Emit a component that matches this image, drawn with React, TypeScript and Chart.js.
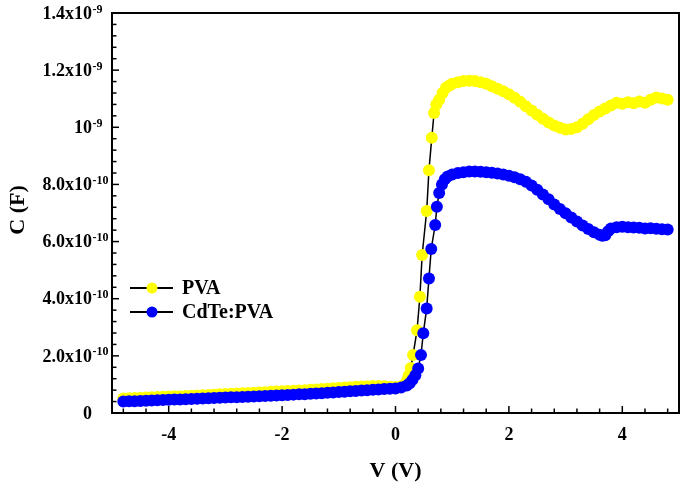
import { useEffect, useRef } from "react";
import { Chart, registerables } from "chart.js";

Chart.register(...registerables);

// Capacitance values are in units of 1e-11 F
const pvaV = [
  -4.8, -4.7, -4.6, -4.5, -4.4, -4.3, -4.2, -4.1, -4.0, -3.9, -3.8, -3.7, -3.6, -3.5, -3.4, -3.3,
  -3.2, -3.1, -3.0, -2.9, -2.8, -2.7, -2.6, -2.5, -2.4, -2.3, -2.2, -2.1, -2.0, -1.9, -1.8, -1.7,
  -1.6, -1.5, -1.4, -1.3, -1.2, -1.1, -1.0, -0.9, -0.8, -0.7, -0.6, -0.5, -0.4, -0.3, -0.2, -0.1,
  0.0, 0.1, 0.15, 0.2, 0.23, 0.27, 0.31, 0.38, 0.43, 0.47, 0.55, 0.59, 0.64, 0.68, 0.72, 0.77,
  0.83, 0.89, 0.95, 1.0, 1.1, 1.2, 1.3, 1.4, 1.5, 1.6, 1.7, 1.8, 1.9, 2.0, 2.1, 2.2, 2.3, 2.4,
  2.5, 2.6, 2.7, 2.8, 2.9, 3.0, 3.1, 3.2, 3.3, 3.4, 3.5, 3.6, 3.7, 3.8, 3.9, 4.0, 4.1, 4.2, 4.3,
  4.4, 4.5, 4.6, 4.7, 4.8,
];
const pvaC = [
  5.1, 5.18, 5.26, 5.34, 5.42, 5.5, 5.58, 5.66, 5.74, 5.82, 5.9, 5.98, 6.07, 6.16, 6.25, 6.34,
  6.43, 6.52, 6.61, 6.7, 6.8, 6.9, 7.0, 7.1, 7.2, 7.3, 7.4, 7.5, 7.6, 7.7, 7.8, 7.9,
  8.0, 8.12, 8.25, 8.38, 8.51, 8.64, 8.77, 8.9, 9.03, 9.16, 9.3, 9.4, 9.45, 9.45, 9.35, 9.2,
  9.1, 9.3, 9.9, 11.2, 13.0, 15.75, 20.3, 29.0, 40.7, 55.3, 70.7, 85.0, 96.3, 105.0, 108.0, 109.6,
  112.0, 113.8, 114.6, 115.2, 115.8, 116.2, 116.3, 116.2, 115.8, 115.2, 114.4, 113.5, 112.6, 111.6, 110.3, 108.9, 107.4, 105.9,
  104.4, 103.0, 101.7, 100.6, 99.8, 99.2, 99.4, 100.0, 101.2, 102.8, 104.3, 105.5, 106.6, 107.6, 108.6, 108.2, 108.8, 108.4, 109.0,
  108.6, 109.6, 110.4, 110.1, 109.6,
];

const cdteV = [
  -4.8, -4.7, -4.6, -4.5, -4.4, -4.3, -4.2, -4.1, -4.0, -3.9, -3.8, -3.7, -3.6, -3.5, -3.4, -3.3,
  -3.2, -3.1, -3.0, -2.9, -2.8, -2.7, -2.6, -2.5, -2.4, -2.3, -2.2, -2.1, -2.0, -1.9, -1.8, -1.7,
  -1.6, -1.5, -1.4, -1.3, -1.2, -1.1, -1.0, -0.9, -0.8, -0.7, -0.6, -0.5, -0.4, -0.3, -0.2, -0.1,
  0.0, 0.1, 0.2, 0.25, 0.3, 0.35, 0.4, 0.45, 0.49, 0.55, 0.59, 0.63, 0.7, 0.73, 0.77, 0.82,
  0.87, 0.92, 1.0, 1.1, 1.2, 1.3, 1.4, 1.5, 1.6, 1.7, 1.8, 1.9, 2.0, 2.1, 2.2, 2.3, 2.4,
  2.5, 2.6, 2.7, 2.8, 2.9, 3.0, 3.1, 3.2, 3.3, 3.4, 3.5, 3.6, 3.65, 3.7, 3.75, 3.8, 3.9, 4.0,
  4.1, 4.2, 4.3, 4.4, 4.5, 4.6, 4.7, 4.8,
];
const cdteC = [
  4.0, 4.08, 4.15, 4.23, 4.3, 4.38, 4.46, 4.53, 4.61, 4.69, 4.76, 4.84, 4.92, 5.0, 5.08, 5.15,
  5.23, 5.31, 5.39, 5.47, 5.55, 5.64, 5.72, 5.81, 5.9, 5.98, 6.07, 6.16, 6.25, 6.34, 6.43, 6.52,
  6.6, 6.7, 6.82, 6.95, 7.08, 7.2, 7.33, 7.46, 7.6, 7.73, 7.86, 8.0, 8.12, 8.25, 8.38, 8.5,
  8.6, 8.9, 9.6, 10.4, 11.6, 13.2, 15.6, 20.3, 27.9, 36.6, 47.1, 57.4, 65.8, 72.2, 77.0, 80.0,
  81.8, 82.8, 83.5, 84.0, 84.3, 84.5, 84.5, 84.4, 84.3, 84.1, 83.8, 83.5, 83.0, 82.5, 81.8, 80.9, 79.6,
  78.1, 76.5, 74.8, 73.0, 71.4, 69.9, 68.4, 67.0, 65.6, 64.4, 63.3, 62.4, 62.0, 62.2, 63.6, 64.6, 65.0, 65.2,
  65.0, 64.9, 64.8, 64.6, 64.7, 64.5, 64.3, 64.2,
];

const seriesLabels = ["PVA", "CdTe:PVA"];
const seriesColors = ["#FFFF00", "#0000FF"];

const xTickValues = [-4, -2, 0, 2, 4];
const xTickLabels = ["-4", "-2", "0", "2", "4"];
const yTickValues = [0, 20, 40, 60, 80, 100, 120, 140];
const yTickBase = ["0", "2.0x10", "4.0x10", "6.0x10", "8.0x10", "10", "1.2x10", "1.4x10"];
const yTickExp = ["", "-10", "-10", "-10", "-10", "-9", "-9", "-9"];

const xTitle = "V (V)";
const yTitle = "C (F)";

const FONT = '"Liberation Serif", "Times New Roman", serif';

const decorPlugin = {
  id: "decor",
  afterDatasetsDraw(chart: any) {
    const { ctx, chartArea } = chart;
    const xs = chart.scales.x;
    const ys = chart.scales.y;
    const { left, right, top, bottom } = chartArea;
    ctx.save();
    ctx.strokeStyle = "#000";
    ctx.fillStyle = "#000";

    // minor / major ticks (inward)
    ctx.lineWidth = 1.5;
    for (let k = -12; k <= 12; k++) {
      const v = k * 0.4;
      const px = xs.getPixelForValue(v);
      const major = k % 5 === 0;
      ctx.beginPath();
      ctx.moveTo(px, bottom);
      ctx.lineTo(px, bottom - (major ? 7 : 4.5));
      ctx.stroke();
    }
    for (let k = 1; k < 35; k++) {
      const v = k * 4;
      const py = ys.getPixelForValue(v);
      const major = k % 5 === 0;
      ctx.beginPath();
      ctx.moveTo(left, py);
      ctx.lineTo(left + (major ? 7 : 4.5), py);
      ctx.stroke();
    }

    // frame
    ctx.lineWidth = 2;
    ctx.strokeRect(left, top, right - left, bottom - top);

    // x tick labels
    ctx.font = `bold 18px ${FONT}`;
    ctx.textAlign = "center";
    ctx.textBaseline = "middle";
    xTickValues.forEach((v, i) => {
      ctx.fillText(xTickLabels[i], xs.getPixelForValue(v), 435);
    });

    // y tick labels with superscripts
    yTickValues.forEach((v, i) => {
      const py = ys.getPixelForValue(v);
      ctx.font = `bold 18px ${FONT}`;
      ctx.textAlign = "right";
      ctx.textBaseline = "middle";
      const baseRight = 92;
      ctx.fillText(yTickBase[i], baseRight, py + 1);
      if (yTickExp[i]) {
        ctx.font = `bold 12px ${FONT}`;
        ctx.textAlign = "left";
        ctx.fillText(yTickExp[i], baseRight + 0.5, py - 3.5);
      }
    });

    // axis titles
    ctx.font = `bold 22px ${FONT}`;
    ctx.textAlign = "center";
    ctx.textBaseline = "middle";
    ctx.fillText(xTitle, (left + right) / 2, 471);
    ctx.save();
    ctx.translate(18, (top + bottom) / 2 - 3);
    ctx.rotate(-Math.PI / 2);
    ctx.fillText(yTitle, 0, 0);
    ctx.restore();

    // legend
    seriesLabels.forEach((lab, i) => {
      const ly = 288 + i * 24;
      ctx.strokeStyle = "#000";
      ctx.lineWidth = 2;
      ctx.beginPath();
      ctx.moveTo(130, ly);
      ctx.lineTo(173, ly);
      ctx.stroke();
      ctx.fillStyle = seriesColors[i];
      ctx.beginPath();
      ctx.arc(152, ly, 5.5, 0, Math.PI * 2);
      ctx.fill();
      ctx.fillStyle = "#000";
      ctx.font = `bold 20px ${FONT}`;
      ctx.textAlign = "left";
      ctx.textBaseline = "middle";
      ctx.fillText(lab, 182, ly + 1);
    });

    ctx.restore();
  },
};

export default function App() {
  const ref = useRef<HTMLCanvasElement | null>(null);
  useEffect(() => {
    document.body.style.margin = "0";
    const canvas = ref.current;
    if (!canvas) return;
    const mk = (vs: number[], cs: number[]) => vs.map((v, i) => ({ x: v, y: cs[i] }));
    const chart = new Chart(canvas, {
      type: "scatter",
      data: {
        datasets: [
          {
            label: seriesLabels[0],
            data: mk(pvaV, pvaC),
            showLine: true,
            borderColor: "#000",
            borderWidth: 1.5,
            backgroundColor: seriesColors[0],
            pointBackgroundColor: seriesColors[0],
            pointBorderColor: seriesColors[0],
            pointBorderWidth: 0,
            pointRadius: 6,
            order: 2,
          },
          {
            label: seriesLabels[1],
            data: mk(cdteV, cdteC),
            showLine: true,
            borderColor: "#000",
            borderWidth: 1.5,
            backgroundColor: seriesColors[1],
            pointBackgroundColor: seriesColors[1],
            pointBorderColor: seriesColors[1],
            pointBorderWidth: 0,
            pointRadius: 6,
            order: 1,
          },
        ],
      },
      options: {
        responsive: false,
        animation: false,
        layout: { padding: { left: 112, right: 5, top: 13, bottom: 71 } },
        scales: {
          x: { type: "linear", min: -5, max: 5, display: false },
          y: { type: "linear", min: 0, max: 140, display: false },
        },
        plugins: { legend: { display: false }, tooltip: { enabled: false } },
      },
      plugins: [decorPlugin],
    });
    return () => chart.destroy();
  }, []);
  return (
    <div style={{ width: 685, height: 484, background: "#fff" }}>
      <canvas ref={ref} width={685} height={484} style={{ display: "block" }} />
    </div>
  );
}
